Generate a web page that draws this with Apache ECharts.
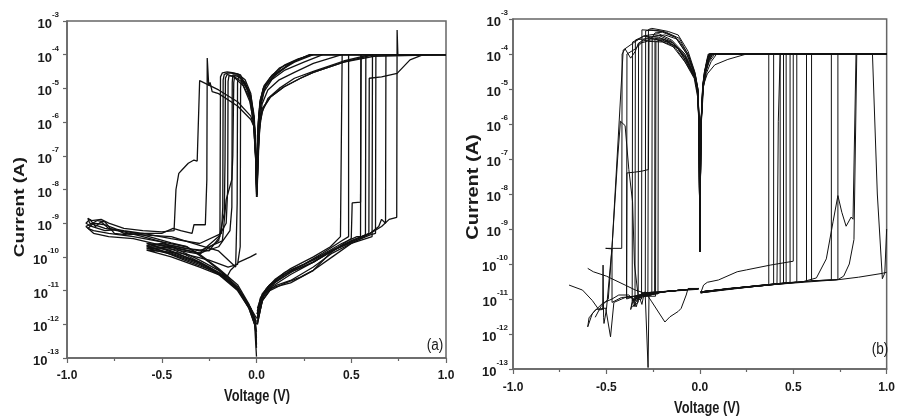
<!DOCTYPE html>
<html><head><meta charset="utf-8">
<script src="https://cdn.jsdelivr.net/npm/echarts@6/dist/echarts.min.js"></script>
<style>html,body{margin:0;padding:0;background:#fff}#c{width:898px;height:419px}</style>
</head><body><div id="c"></div>
<script>
// ---------- DATA: panel (a), each curve = list of [voltage (V), current (A)] ----------
const A1 = [[0.003,1.5e-12],[0.02,5e-12],[0.05,1.1e-11],[0.1,2.2e-11],[0.18,4.5e-11],[0.3,1e-10],[0.39,2e-10],[0.443,4e-10],[0.452,4e-10],[0.452,1e-4],[1,1e-4],[0.285,1e-4],[0.215,7e-5],[0.18,5.5e-5],[0.09,2.2e-5],[0.04,1.1e-5],[0.02,4.6e-6],[0.01,1e-6],[0.002,8e-9],[-0.003,6e-8],[-0.01,6e-7],[-0.014,1.2e-6],[-0.032,5.6e-6],[-0.084,2.5e-5],[-0.12,2.9e-5],[-0.155,3.1e-5],[-0.18,2.9e-5],[-0.19,2.2e-5],[-0.193,4e-10],[-0.25,1.5e-10],[-0.38,1.8e-10],[-0.5,2.5e-10],[-0.58,2.2e-10],[-0.5,1.5e-10],[-0.38,8e-11],[-0.21,3.5e-11],[-0.1,1.1e-11],[-0.03,2.8e-12],[-0.005,1e-12],[0,2.5e-13]];
const A2 = [[0.004,2.5e-12],[0.03,7e-12],[0.07,1.4e-11],[0.15,3e-11],[0.25,6e-11],[0.35,1.3e-10],[0.45,3e-10],[0.486,4e-10],[0.486,1e-4],[1,1e-4],[0.3,1e-4],[0.22,7.5e-5],[0.15,5e-5],[0.08,2.4e-5],[0.04,1.2e-5],[0.018,4e-6],[0.008,8e-7],[0.001,6e-9],[-0.004,1e-7],[-0.012,1e-6],[-0.03,7e-6],[-0.06,1.8e-5],[-0.1,2.7e-5],[-0.15,2.9e-5],[-0.17,2.6e-5],[-0.176,1.8e-5],[-0.178,3e-9],[-0.185,5e-10],[-0.3,2.5e-10],[-0.45,3.5e-10],[-0.6,5e-10],[-0.7,6e-10],[-0.78,7e-10],[-0.82,1.1e-9],[-0.85,8e-10],[-0.88,1.3e-9],[-0.9,1e-9],[-0.87,8e-10],[-0.8,6e-10],[-0.735,6.5e-10],[-0.6,4.5e-10],[-0.45,2.6e-10],[-0.366,2e-10],[-0.25,7e-11],[-0.15,2.5e-11],[-0.07,7e-12],[-0.02,2e-12],[0,1.2e-12]];
const A3 = [[0.005,1e-12],[0.03,5e-12],[0.07,1e-11],[0.144,1.6e-11],[0.232,2.5e-11],[0.3,4e-11],[0.39,1.3e-10],[0.46,2.5e-10],[0.5,3.5e-10],[0.505,4e-9],[0.549,4.2e-9],[0.552,1e-4],[1,1e-4],[0.62,1e-4],[0.46,6e-5],[0.3,3e-5],[0.232,2e-5],[0.144,1.1e-5],[0.074,5.6e-6],[0.03,2.5e-6],[0.02,1.1e-6],[0.008,1e-7],[0.002,8e-9],[-0.004,8e-8],[-0.015,1e-6],[-0.035,4e-6],[-0.07,1.2e-5],[-0.12,2.2e-5],[-0.155,2.6e-5],[-0.164,2e-5],[-0.166,8e-8],[-0.17,2e-9],[-0.2,3e-10],[-0.3,1.2e-10],[-0.45,1.7e-10],[-0.58,1.8e-10],[-0.45,1.2e-10],[-0.3,6e-11],[-0.2,3e-11],[-0.1,1e-11],[-0.04,3e-12],[-0.01,1e-12],[0,1.1e-13]];
const A4 = [[0.003,2e-12],[0.02,6e-12],[0.06,1.3e-11],[0.12,2.5e-11],[0.2,4.5e-11],[0.3,8e-11],[0.4,1.6e-10],[0.5,3e-10],[0.575,4.5e-10],[0.577,1e-4],[1,1e-4],[0.28,1e-4],[0.2,6.5e-5],[0.12,4e-5],[0.07,2e-5],[0.035,1e-5],[0.018,3.5e-6],[0.008,6e-7],[0.001,7e-9],[-0.004,1.5e-7],[-0.012,1.5e-6],[-0.03,6e-6],[-0.06,1.5e-5],[-0.1,2.5e-5],[-0.125,2.5e-5],[-0.128,1.5e-5],[-0.13,3e-9],[-0.14,6e-10],[-0.2,2e-10],[-0.3,1.3e-10],[-0.45,2e-10],[-0.58,2.5e-10],[-0.45,1.4e-10],[-0.3,7e-11],[-0.18,3e-11],[-0.1,1.2e-11],[-0.03,2.5e-12],[-0.005,8e-13],[0,2e-13]];
const A5 = [[0.004,1.5e-12],[0.03,6e-12],[0.08,1.3e-11],[0.18,3e-11],[0.3,7e-11],[0.4,1.5e-10],[0.5,2.8e-10],[0.593,5e-10],[0.595,2e-5],[0.66,2.2e-5],[0.742,2.8e-5],[0.81,7e-5],[0.88,1e-4],[1,1e-4],[0.45,1e-4],[0.3,5.5e-5],[0.2,3e-5],[0.12,1.8e-5],[0.06,9e-6],[0.03,3.5e-6],[0.015,1e-6],[0.002,7e-9],[-0.005,2e-7],[-0.015,1.5e-6],[-0.04,8e-6],[-0.07,1.7e-5],[-0.095,2.2e-5],[-0.1,1.5e-5],[-0.102,4e-9],[-0.11,5e-11],[-0.2,1.5e-10],[-0.3,2.2e-10],[-0.45,4e-10],[-0.6,4.5e-10],[-0.7,5e-10],[-0.75,7e-10],[-0.8,9e-10],[-0.86,1e-9],[-0.89,7e-10],[-0.86,6e-10],[-0.78,5e-10],[-0.65,4e-10],[-0.5,2.8e-10],[-0.4,1.5e-10],[-0.3,8e-11],[-0.2,4e-11],[-0.1,1.3e-11],[-0.03,3e-12],[0,1e-12]];
const A6 = [[0.005,1.2e-12],[0.04,8e-12],[0.1,1.4e-11],[0.18,2e-11],[0.3,5e-11],[0.4,1.3e-10],[0.5,2.5e-10],[0.61,4e-10],[0.612,1e-4],[1,1e-4],[0.6,1e-4],[0.46,6.5e-5],[0.3,3.2e-5],[0.2,2e-5],[0.12,1e-5],[0.06,5e-6],[0.03,2e-6],[0.015,6e-7],[0.003,8e-9],[-0.005,4e-7],[-0.02,2.5e-6],[-0.05,1e-5],[-0.08,1.8e-5],[-0.084,1e-5],[-0.086,2e-10],[-0.1,6e-11],[-0.15,5e-11],[-0.25,8e-11],[-0.4,1.3e-10],[-0.58,1.6e-10],[-0.45,1e-10],[-0.3,5e-11],[-0.2,3e-11],[-0.155,2.6e-11],[-0.137,4e-11],[-0.093,7e-11],[-0.032,1e-10],[0,1.25e-10]];
const A7 = [[0.004,2e-12],[0.03,7e-12],[0.08,1.5e-11],[0.18,3.5e-11],[0.3,7e-11],[0.4,1.6e-10],[0.5,2.6e-10],[0.6,4.5e-10],[0.628,5e-10],[0.63,1e-4],[1,1e-4],[0.35,1e-4],[0.25,6e-5],[0.15,3.5e-5],[0.08,1.8e-5],[0.04,8e-6],[0.02,2.5e-6],[0.008,3e-7],[0,6e-9],[-0.005,1.5e-7],[-0.012,7e-7],[-0.03,1.2e-6],[-0.1,3e-6],[-0.2,7e-6],[-0.234,8e-6],[-0.245,1.5e-5],[-0.252,1.2e-5],[-0.26,8e-5],[-0.262,2e-8],[-0.27,9e-10],[-0.33,9e-10],[-0.34,5e-10],[-0.4,6e-10],[-0.44,7e-10],[-0.5,5e-10],[-0.6,5e-10],[-0.68,4.5e-10],[-0.75,5e-10],[-0.8,1.1e-9],[-0.84,1.2e-9],[-0.88,9e-10],[-0.9,8e-10],[-0.86,5e-10],[-0.78,4e-10],[-0.65,3.5e-10],[-0.5,2.2e-10],[-0.38,1.2e-10],[-0.25,5e-11],[-0.15,2e-11],[-0.08,8e-12],[-0.03,3e-12],[0,1.5e-12]];
const A8 = [[0.005,1.5e-12],[0.04,8e-12],[0.1,1.8e-11],[0.2,4e-11],[0.3,7e-11],[0.4,1.5e-10],[0.5,3e-10],[0.6,5e-10],[0.645,8e-10],[0.66,1.3e-9],[0.681,1e-9],[0.683,1e-4],[1,1e-4],[0.3,1e-4],[0.2,6e-5],[0.1,2.8e-5],[0.05,1.3e-5],[0.02,3.5e-6],[0.008,5e-7],[0.001,6e-9],[-0.004,1e-7],[-0.015,8e-7],[-0.03,1.5e-6],[-0.1,4e-6],[-0.2,9e-6],[-0.3,1.7e-5],[-0.31,1.6e-5],[-0.313,7e-8],[-0.33,7.5e-8],[-0.36,6e-8],[-0.39,4e-8],[-0.41,3e-8],[-0.425,1e-8],[-0.435,6e-10],[-0.5,5.5e-10],[-0.6,6e-10],[-0.7,7e-10],[-0.78,1e-9],[-0.82,1.3e-9],[-0.87,1.2e-9],[-0.89,1.4e-9],[-0.88,1e-9],[-0.8,7e-10],[-0.7,5.5e-10],[-0.6,4e-10],[-0.5,2.8e-10],[-0.37,2e-10],[-0.3,1.2e-10],[-0.2,4.5e-11],[-0.1,1.5e-11],[-0.04,4e-12],[-0.01,1.5e-12],[0,6e-13]];
const A9 = [[0.004,1e-12],[0.03,5e-12],[0.08,1.2e-11],[0.18,1.7e-11],[0.3,4e-11],[0.4,1e-10],[0.5,2.5e-10],[0.6,5e-10],[0.66,8e-10],[0.7,1.3e-9],[0.74,1.5e-9],[0.742,5.4e-4],[0.746,1e-4],[1,1e-4],[0.62,9e-5],[0.46,6e-5],[0.3,3e-5],[0.232,2e-5],[0.144,1.1e-5],[0.074,5.6e-6],[0.035,2.5e-6],[0.02,1.1e-6],[0.01,2e-7],[0.002,7e-9],[-0.004,7e-8],[-0.015,8e-7],[-0.035,5e-6],[-0.08,1.6e-5],[-0.12,2.3e-5],[-0.145,2.4e-5],[-0.15,1.6e-5],[-0.152,1e-8],[-0.16,1e-9],[-0.2,4e-10],[-0.3,1.3e-10],[-0.45,1.9e-10],[-0.58,2e-10],[-0.45,1.3e-10],[-0.3,6.5e-11],[-0.2,3.2e-11],[-0.1,1.1e-11],[-0.04,3e-12],[-0.01,1e-12],[0,4e-13]];
const A10 = [[0.005,3e-12],[0.03,8e-12],[0.07,1.5e-11],[0.15,3.5e-11],[0.25,6e-11],[0.35,1.2e-10],[0.45,2.5e-10],[0.53,4e-10],[0.549,4e-10],[0.551,1e-4],[1,1e-4],[0.29,1e-4],[0.22,7.2e-5],[0.17,5.2e-5],[0.1,2.6e-5],[0.05,1.2e-5],[0.025,5e-6],[0.012,1.5e-6],[0.002,6e-9],[-0.003,5e-8],[-0.01,5e-7],[-0.025,3.5e-6],[-0.05,1e-5],[-0.09,2.2e-5],[-0.115,2.4e-5],[-0.12,1.5e-5],[-0.125,1e-7],[-0.13,2e-8],[-0.16,5e-9],[-0.18,3e-10],[-0.3,1.5e-10],[-0.45,2.2e-10],[-0.57,2.4e-10],[-0.45,1.5e-10],[-0.32,7.5e-11],[-0.2,3.5e-11],[-0.1,1.1e-11],[-0.03,2.8e-12],[0,1e-12]];

// ---------- DATA: panel (b) ----------
const B1 = [[0.005,1.6e-11],[0.12,1.9e-11],[0.25,2.2e-11],[0.369,2.5e-11],[0.369,1e-4],[1,1e-4],[0.05,1e-4],[0.042,7.6e-5],[0.025,3e-5],[0.016,1.3e-5],[0.006,1e-6],[0,2.2e-10],[-0.004,1.2e-6],[-0.01,8e-6],[-0.02,1.7e-5],[-0.063,5.2e-5],[-0.116,1.4e-4],[-0.17,2.2e-4],[-0.222,2.5e-4],[-0.224,1.4e-11],[-0.3,1.3e-11],[-0.35,1.1e-11],[-0.3,1.5e-11],[-0.15,1.7e-11],[-0.005,2e-11]];
const B2 = [[0.005,1.5e-11],[0.15,2e-11],[0.3,2.3e-11],[0.395,2.6e-11],[0.395,1e-4],[1,1e-4],[0.06,1e-4],[0.045,7e-5],[0.028,3e-5],[0.017,1.2e-5],[0.006,8e-7],[0,2.2e-10],[-0.004,1e-6],[-0.012,9e-6],[-0.025,2e-5],[-0.07,5.5e-5],[-0.12,1.5e-4],[-0.19,2.6e-4],[-0.24,2.8e-4],[-0.242,1.6e-11],[-0.3,1.2e-11],[-0.36,9e-12],[-0.3,1.4e-11],[-0.1,1.8e-11],[-0.005,2e-11]];
const B3 = [[0.005,1.6e-11],[0.2,2.1e-11],[0.4,2.7e-11],[0.413,2.7e-11],[0.42,1.2e-6],[0.43,1e-4],[1,1e-4],[0.07,1e-4],[0.05,6.5e-5],[0.03,3e-5],[0.018,1.2e-5],[0.006,1e-6],[0,2.2e-10],[-0.004,1e-6],[-0.01,1e-5],[-0.028,3.2e-5],[-0.063,1.2e-4],[-0.116,3.5e-4],[-0.169,4.4e-4],[-0.213,4.9e-4],[-0.257,5.4e-4],[-0.275,5e-4],[-0.278,1.6e-11],[-0.33,1.1e-11],[-0.3,1.5e-11],[-0.15,1.7e-11],[-0.005,2e-11]];
const B4 = [[0.005,1.6e-11],[0.2,2.1e-11],[0.43,2.7e-11],[0.43,1e-4],[1,1e-4],[0.08,1e-4],[0.05,6e-5],[0.03,2.8e-5],[0.018,1.1e-5],[0.006,8e-7],[0,2.2e-10],[-0.004,1e-6],[-0.012,1e-5],[-0.03,3e-5],[-0.07,1e-4],[-0.13,3e-4],[-0.2,4.5e-4],[-0.26,4.9e-4],[-0.29,4.6e-4],[-0.292,1.2e-11],[-0.282,1.2e-11],[-0.277,1.1e-13],[-0.272,1.3e-11],[-0.2,1.6e-11],[-0.005,2e-11]];
const B5 = [[0.005,1.6e-11],[0.2,2.1e-11],[0.448,2.8e-11],[0.448,1e-4],[1,1e-4],[0.055,1e-4],[0.045,7e-5],[0.028,3.5e-5],[0.016,1.2e-5],[0.006,9e-7],[0,2.2e-10],[-0.004,1.4e-6],[-0.01,9e-6],[-0.025,2.4e-5],[-0.06,9e-5],[-0.11,2.8e-4],[-0.18,4.2e-4],[-0.25,4.7e-4],[-0.31,4.9e-4],[-0.312,1e-11],[-0.35,9e-12],[-0.38,1.3e-11],[-0.434,1.3e-11],[-0.47,1e-11],[-0.52,7.6e-12],[-0.575,3.9e-12],[-0.6,1.6e-12],[-0.593,2.9e-12],[-0.557,5e-12],[-0.504,5.5e-12],[-0.478,8.3e-13],[-0.46,8e-12],[-0.4,1.1e-11],[-0.35,1.2e-11],[-0.2,1.6e-11],[-0.005,2e-11]];
const B6 = [[0.005,1.5e-11],[0.2,2.1e-11],[0.462,2.9e-11],[0.462,1e-4],[1,1e-4],[0.065,1e-4],[0.048,6.5e-5],[0.03,3.2e-5],[0.017,1.2e-5],[0.006,8e-7],[0,2.2e-10],[-0.004,9e-7],[-0.012,7e-6],[-0.025,2e-5],[-0.07,5e-5],[-0.13,1.5e-4],[-0.2,2.2e-4],[-0.28,2.3e-4],[-0.328,2e-4],[-0.33,8e-12],[-0.36,6e-12],[-0.32,1.2e-11],[-0.293,1.6e-11],[-0.257,8.3e-12],[-0.187,2.2e-12],[-0.16,3.1e-12],[-0.116,4.4e-12],[-0.1,5.4e-12],[-0.073,1.3e-11],[-0.063,2e-11],[-0.005,2e-11]];
const B7 = [[0.005,1.6e-11],[0.25,2.2e-11],[0.483,3e-11],[0.483,1e-4],[1,1e-4],[0.07,1e-4],[0.05,7e-5],[0.03,3e-5],[0.018,1.3e-5],[0.006,1e-6],[0,2.2e-10],[-0.004,1e-6],[-0.01,8e-6],[-0.03,2.5e-5],[-0.08,8e-5],[-0.14,2e-4],[-0.22,3e-4],[-0.3,3.2e-4],[-0.345,2.5e-4],[-0.347,6e-12],[-0.36,1e-11],[-0.37,5e-12],[-0.355,1e-11],[-0.34,6e-12],[-0.325,1.2e-11],[-0.31,7e-12],[-0.3,1.3e-11],[-0.15,1.7e-11],[-0.005,2e-11]];
const B8 = [[0.005,1.5e-11],[0.02,2.5e-11],[0.04,3e-11],[0.1,3.5e-11],[0.2,6e-11],[0.25,6.8e-11],[0.377,9.3e-11],[0.5,1.2e-10],[0.5,1e-4],[1,1e-4],[0.25,1e-4],[0.15,7e-5],[0.08,4.9e-5],[0.04,2.7e-5],[0.025,1.6e-5],[0.016,1e-5],[0.006,6e-7],[0,2.2e-10],[-0.004,8e-7],[-0.012,6e-6],[-0.03,2e-5],[-0.08,6e-5],[-0.15,1.8e-4],[-0.25,2.8e-4],[-0.33,2.6e-4],[-0.36,2.2e-4],[-0.362,9e-12],[-0.33,1.2e-11],[-0.2,1.6e-11],[-0.005,1.9e-11]];
const B9 = [[0.005,1.6e-11],[0.3,2.3e-11],[0.519,3.1e-11],[0.519,1e-4],[1,1e-4],[0.05,1e-4],[0.042,7.5e-5],[0.026,3e-5],[0.016,1.2e-5],[0.006,1e-6],[0,2.2e-10],[-0.004,1.1e-6],[-0.01,1e-5],[-0.025,2.8e-5],[-0.063,1e-4],[-0.116,2.6e-4],[-0.187,3.5e-4],[-0.25,3.2e-4],[-0.272,2.5e-4],[-0.275,5e-8],[-0.31,4.5e-8],[-0.35,4.2e-8],[-0.39,4e-8],[-0.392,1e-11],[-0.33,1.3e-11],[-0.2,1.6e-11],[-0.005,2e-11]];
const B10 = [[0.005,1.5e-11],[0.3,2.4e-11],[0.571,3.2e-11],[0.571,1e-4],[1,1e-4],[0.06,1e-4],[0.045,7e-5],[0.028,3e-5],[0.017,1.2e-5],[0.006,9e-7],[0,2.2e-10],[-0.004,1e-6],[-0.012,9e-6],[-0.03,2.6e-5],[-0.08,9e-5],[-0.15,2.3e-4],[-0.22,3.4e-4],[-0.29,2.8e-4],[-0.33,2e-4],[-0.345,1.2e-4],[-0.37,7.6e-5],[-0.4,1.4e-4],[-0.416,1e-4],[-0.418,2.8e-10],[-0.504,2.8e-10],[-0.47,2.7e-10],[-0.47,8e-12],[-0.42,1.1e-11],[-0.35,1.2e-11],[-0.2,1.6e-11],[-0.005,2e-11]];
const B11 = [[0.005,1.6e-11],[0.35,2.5e-11],[0.598,3.3e-11],[0.598,1e-4],[1,1e-4],[0.05,1e-4],[0.04,7e-5],[0.025,3e-5],[0.015,1.1e-5],[0.006,8e-7],[0,2.2e-10],[-0.004,1.2e-6],[-0.012,1e-5],[-0.03,3e-5],[-0.08,1e-4],[-0.15,2.5e-4],[-0.22,3.8e-4],[-0.3,3.3e-4],[-0.36,2e-4],[-0.41,1.3e-4],[-0.47,3e-10],[-0.49,1e-11],[-0.53,6e-12],[-0.56,3e-12]];
const B12 = [[-0.7,2.5e-11],[-0.628,1.8e-11],[-0.575,9e-12],[-0.54,4.9e-12],[-0.52,5e-12],[-0.518,9.3e-11],[-0.515,3e-12],[-0.513,2e-12],[-0.5,5e-12],[-0.47,3e-10],[-0.44,1e-7],[-0.425,1.2e-6],[-0.4,9e-7],[-0.38,5e-8],[-0.36,6e-9],[-0.35,1e-10],[-0.33,1.2e-11],[-0.2,1.6e-11],[-0.005,2e-11]];
const B13 = [[0.005,1.6e-11],[0.3,2.3e-11],[0.55,3.1e-11],[0.624,4e-11],[0.677,1.4e-10],[0.713,1.6e-9],[0.739,9e-9],[0.76,3e-9],[0.783,1.2e-9],[0.81,2.2e-9],[0.82,1.9e-9],[0.836,1e-4],[1,1e-4],[0.09,1e-4],[0.06,6e-5],[0.035,2.8e-5],[0.02,1.2e-5],[0.006,7e-7],[0,2.2e-10],[-0.004,9e-7],[-0.012,8e-6],[-0.03,2.4e-5],[-0.07,7e-5],[-0.13,1.7e-4],[-0.2,2.5e-4],[-0.235,2.3e-4],[-0.237,1.2e-11],[-0.3,1.2e-11],[-0.2,1.6e-11],[-0.005,2e-11]];
const B14 = [[0.005,1.5e-11],[0.3,2.3e-11],[0.6,3.3e-11],[0.704,3.5e-11],[0.704,1e-4],[1,1e-4],[0.045,1e-4],[0.038,7e-5],[0.024,3e-5],[0.015,1.2e-5],[0.006,1e-6],[0,2.2e-10],[-0.004,1e-6],[-0.01,9e-6],[-0.025,2.6e-5],[-0.07,1e-4],[-0.13,3e-4],[-0.2,4.2e-4],[-0.24,4e-4],[-0.255,3e-4],[-0.257,1.3e-11],[-0.3,1.2e-11],[-0.2,1.6e-11],[-0.005,2e-11]];
const B15 = [[0.005,1.6e-11],[0.4,2.6e-11],[0.72,3.5e-11],[0.739,3.6e-11],[0.739,1e-4],[1,1e-4],[0.055,1e-4],[0.044,7e-5],[0.027,3e-5],[0.016,1.1e-5],[0.006,8e-7],[0,2.2e-10],[-0.004,1e-6],[-0.012,8e-6],[-0.03,2.5e-5],[-0.08,9e-5],[-0.15,2.2e-4],[-0.2,2.7e-4],[-0.3,2.4e-4],[-0.345,1.4e-4],[-0.39,1e-4],[-0.392,1.2e-11],[-0.35,1e-11],[-0.2,1.6e-11],[-0.005,2e-11]];
const B16 = [[0.6,3.3e-11],[0.74,3.6e-11],[0.77,4.5e-11],[0.8,1e-10],[0.825,5e-10],[0.84,1e-4],[1,1e-4],[0.924,1e-4],[0.95,1e-8],[0.977,3.8e-11],[0.99,5.5e-11],[1,6e-11],[1,1e-9]];
const B17 = [[0.6,3.3e-11],[0.73,3.5e-11],[0.85,4.2e-11],[0.977,5.4e-11],[1,5.8e-11]];
const B18 = [[-0.6,7.5e-11],[-0.57,6e-11],[-0.5,4.5e-11],[-0.4,2.5e-11],[-0.345,1.8e-11],[-0.3,1.5e-11]];

const curvesA = [A1, A2, A3, A4, A5, A6, A7, A8, A9, A10];
const curvesB = [B1, B2, B3, B4, B5, B6, B7, B8, B9, B10, B11, B12, B13, B14, B15, B16, B17, B18];
const xTickValues = [-1.0, -0.5, 0.0, 0.5, 1.0];
const panelLabels = ['(a)', '(b)'];
const xTitle = 'Voltage (V)';
const yTitle = 'Current (A)';

// ---------- CHART ----------
const FONT = 'Liberation Sans';
const TXT = '#1a1a1a';
const AX = '#666';

function xAxisDef(gi, margin) {
  return {
    gridIndex: gi, type: 'value', min: -1, max: 1, interval: 0.5,
    axisLine: { show: true, onZero: false, lineStyle: { color: AX, width: 1.5 } },
    axisTick: { show: true, inside: false, length: 5, lineStyle: { color: AX, width: 1.2 } },
    minorTick: { show: true, splitNumber: 2, length: 3, lineStyle: { color: AX, width: 1.2 } },
    splitLine: { show: false },
    axisLabel: { margin: margin, color: TXT, fontFamily: FONT, fontWeight: 'bold', fontSize: 12,
      formatter: v => (xTickValues.indexOf(v) >= 0 ? v.toFixed(1) : '') }
  };
}
function yAxisDef(gi, margin) {
  return {
    gridIndex: gi, type: 'log', logBase: 10, min: 1e-13, max: 1e-3, interval: 1,
    axisLine: { show: true, onZero: false, lineStyle: { color: AX, width: 1.5 } },
    axisTick: { show: true, inside: false, length: 4, lineStyle: { color: AX, width: 1.2 } },
    minorTick: { show: false },
    splitLine: { show: false },
    axisLabel: {
      margin: margin,
      formatter: v => '{b|10}{s|' + Math.round(Math.log10(v)) + '}',
      rich: {
        b: { fontFamily: FONT, fontWeight: 'bold', fontSize: 13, color: TXT, lineHeight: 20, verticalAlign: 'bottom' },
        s: { fontFamily: FONT, fontWeight: 'bold', fontSize: 8, color: TXT, lineHeight: 9, verticalAlign: 'top' }
      }
    }
  };
}

const series = [];
curvesA.forEach(c => series.push({ type: 'line', xAxisIndex: 0, yAxisIndex: 0, data: c, showSymbol: false, symbol: 'none', silent: true,
  lineStyle: { color: '#111', width: 1.3 } }));
curvesB.forEach(c => series.push({ type: 'line', xAxisIndex: 1, yAxisIndex: 1, data: c, showSymbol: false, symbol: 'none', silent: true,
  lineStyle: { color: '#111', width: 1 } }));

const chart = echarts.init(document.getElementById('c'), null, { renderer: 'canvas' });
chart.setOption({
  animation: false,
  backgroundColor: '#fff',
  grid: [
    { left: 67, top: 21, width: 379, height: 337, show: true, borderColor: AX, borderWidth: 1.5, backgroundColor: 'transparent' },
    { left: 513, top: 19, width: 378, height: 350, show: true, borderColor: AX, borderWidth: 1.5, backgroundColor: 'transparent' }
  ],
  xAxis: [xAxisDef(0, 12), xAxisDef(1, 13)],
  yAxis: [yAxisDef(0, 8), yAxisDef(1, 5)],
  graphic: [
    { type: 'text', x: 20, y: 207, rotation: Math.PI / 2, scaleY: 0.75,
      style: { text: yTitle, font: 'bold 19px "Liberation Sans"', fill: TXT, align: 'center', verticalAlign: 'middle' } },
    { type: 'text', x: 474, y: 187, rotation: Math.PI / 2, scaleY: 0.8,
      style: { text: yTitle, font: 'bold 20px "Liberation Sans"', fill: TXT, align: 'center', verticalAlign: 'middle' } },
    { type: 'text', x: 257, y: 397, scaleX: 0.8,
      style: { text: xTitle, font: 'bold 16px "Liberation Sans"', fill: TXT, align: 'center', verticalAlign: 'middle' } },
    { type: 'text', x: 707, y: 409, scaleX: 0.8,
      style: { text: xTitle, font: 'bold 16px "Liberation Sans"', fill: TXT, align: 'center', verticalAlign: 'middle' } },
    { type: 'text', x: 435, y: 346, scaleX: 0.85,
      style: { text: panelLabels[0], font: '16px "Liberation Sans"', fill: TXT, align: 'center', verticalAlign: 'middle' } },
    { type: 'text', x: 880, y: 350, scaleX: 0.85,
      style: { text: panelLabels[1], font: '16px "Liberation Sans"', fill: TXT, align: 'center', verticalAlign: 'middle' } }
  ],
  series: series
});
</script></body></html>
